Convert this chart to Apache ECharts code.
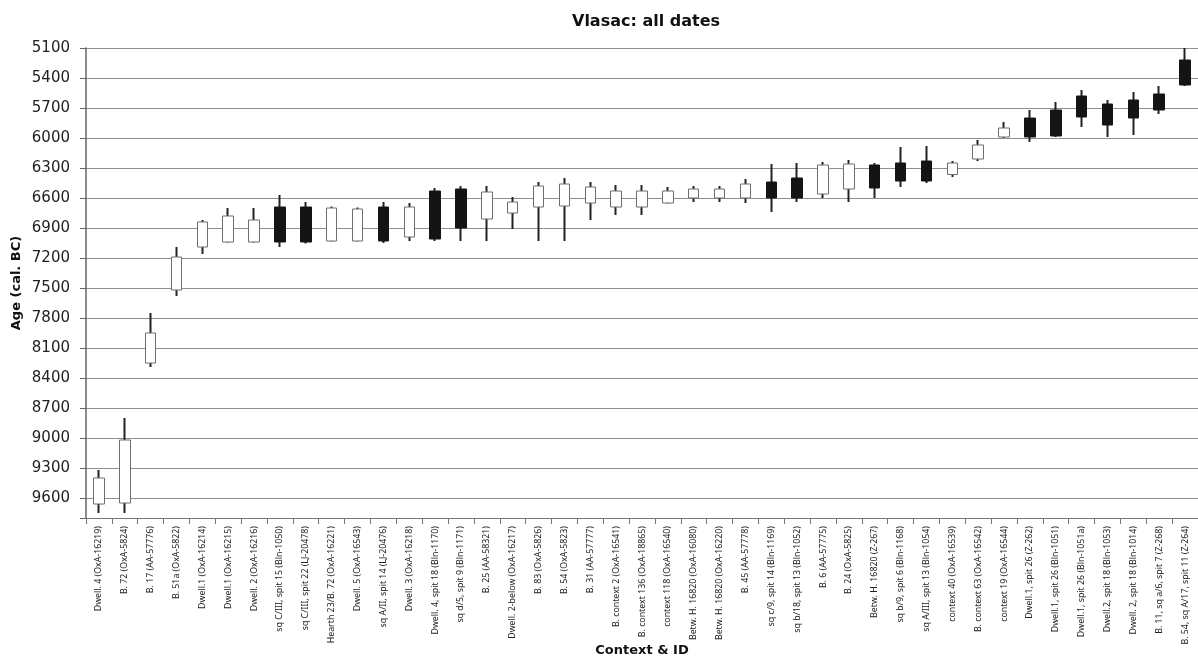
<!DOCTYPE html>
<html>
<head>
<meta charset="utf-8">
<script src="https://cdn.jsdelivr.net/npm/echarts@6/dist/echarts.min.js"></script>
<style>html,body{margin:0;padding:0;background:#fff}#c{width:1198px;height:662px}</style>
</head>
<body>
<div id="c"></div>
<script>
const categories = [
  'Dwell. 4 (OxA-16219)','B. 72 (OxA-5824)','B. 17 (AA-57776)','B. 51a (OxA-5822)',
  'Dwell.1 (OxA-16214)','Dwell.1 (OxA-16215)','Dwell. 2 (OxA-16216)','sq C/III, spit 15 (Bln-1050)',
  'sq C/III, spit 22 (LJ-20478)','Hearth 23/B. 72 (OxA-16221)','Dwell. 5 (OxA-16543)','sq A/II, spit 14 (LJ-20476)',
  'Dwell. 3 (OxA-16218)','Dwell. 4, spit 18 (Bln-1170)','sq d/5, spit 9 (Bln-1171)','B. 25 (AA-58321)',
  'Dwell. 2-below (OxA-16217)','B. 83 (OxA-5826)','B. 54 (OxA-5823)','B. 31 (AA-57777)',
  'B. context 2 (OxA-16541)','B. context 136 (OxA-18865)','context 118 (OxA-16540)','Betw. H. 16820 (OxA-16080)',
  'Betw. H. 16820 (OxA-16220)','B. 45 (AA-57778)','sq c/9, spit 14 (Bln-1169)','sq b/18, spit 13 (Bln-1052)',
  'B. 6 (AA-57775)','B. 24 (OxA-5825)','Betw. H. 16820 (Z-267)','sq b/9, spit 6 (Bln-1168)',
  'sq A/III, spit 13 (Bln-1054)','context 40 (OxA-16539)','B. context 63 (OxA-16542)','context 19 (OxA-16544)',
  'Dwell.1, spit 26 (Z-262)','Dwell.1, spit 26 (Bln-1051)','Dwell.1, spit 26 (Bln-1051a)','Dwell.2, spit 18 (Bln-1053)',
  'Dwell. 2, spit 18 (Bln-1014)','B. 11, sq a/6, spit 7 (Z-268)','B. 54, sq A/17, spit 11 (Z-264)'
];
// ages in cal. BC: whisker young end, box young end, box old end, whisker old end
const whiskerYoung = [9320,8800,7750,7090,6820,6700,6700,6570,6640,6685,6695,6640,6650,6500,6480,6480,6590,6440,6400,6440,6470,6470,6490,6480,6480,6410,6260,6250,6240,6220,6250,6090,6080,6230,6020,5840,5720,5640,5520,5620,5540,5480,5100];
const boxYoung     = [9400,9020,7950,7190,6840,6780,6820,6690,6690,6700,6710,6690,6690,6530,6510,6540,6640,6480,6460,6490,6530,6530,6530,6510,6510,6460,6440,6400,6270,6260,6270,6250,6230,6250,6070,5900,5800,5720,5580,5660,5620,5560,5220];
const boxOld       = [9660,9650,8250,7520,7090,7040,7040,7040,7040,7030,7030,7030,6990,7010,6900,6810,6750,6690,6680,6650,6690,6690,6650,6600,6600,6600,6600,6600,6560,6510,6500,6430,6430,6365,6210,5990,5990,5980,5790,5870,5800,5720,5470];
const whiskerOld   = [9750,9750,8290,7580,7160,7045,7045,7090,7055,7035,7035,7050,7030,7030,7030,7030,6910,7030,7030,6820,6770,6770,6655,6640,6640,6650,6740,6640,6600,6640,6600,6490,6450,6390,6230,6000,6040,5990,5890,5990,5970,5760,5480];
const filled       = [0,0,0,0,0,0,0,1,1,0,0,1,0,1,1,0,0,0,0,0,0,0,0,0,0,0,1,1,0,0,1,1,1,0,0,0,1,1,1,1,1,1,1];
const yTicks = {min: 5100, max: 9800, interval: 300};

const whiskerData = categories.map((c, i) => {
  const mid = (boxYoung[i] + boxOld[i]) / 2;
  return [mid, mid, whiskerYoung[i], whiskerOld[i]];
});
const boxData = categories.map((c, i) => {
  const fillC = filled[i] ? '#141414' : '#ffffff';
  const bord = filled[i] ? '#141414' : '#6e6e6e';
  return {
    value: [boxYoung[i], boxOld[i], boxYoung[i], boxOld[i]],
    itemStyle: {color: fillC, color0: fillC, borderColor: bord, borderColor0: bord}
  };
});

const chart = echarts.init(document.getElementById('c'), null, {renderer: 'canvas'});
chart.setOption({
  animation: false,
  backgroundColor: '#ffffff',
  title: {
    text: 'Vlasac: all dates',
    left: 567, top: 9,
    textStyle: {fontFamily: 'DejaVu Sans', fontWeight: 'bold', fontSize: 16, color: '#111'}
  },
  grid: {left: 86, right: 0, top: 48, bottom: 144, containLabel: false, outerBoundsMode: 'none'},
  xAxis: {
    type: 'category',
    data: categories,
    name: 'Context & ID',
    nameLocation: 'middle',
    nameGap: 126,
    nameMoveOverlap: false,
    nameTextStyle: {fontFamily: 'DejaVu Sans', fontWeight: 'bold', fontSize: 13, color: '#111'},
    axisLine: {show: true, lineStyle: {color: '#777', width: 1}},
    axisTick: {show: true, alignWithLabel: false, length: 6, lineStyle: {color: '#777'}},
    axisLabel: {interval: 0, rotate: 90, fontFamily: 'Noto Sans', fontSize: 8.8, color: '#222', margin: 8},
    splitLine: {show: false}
  },
  yAxis: {
    type: 'value',
    inverse: true,
    min: yTicks.min, max: yTicks.max, interval: yTicks.interval,
    name: 'Age (cal. BC)',
    nameLocation: 'middle',
    nameGap: 63,
    nameMoveOverlap: false,
    nameTextStyle: {fontFamily: 'DejaVu Sans', fontWeight: 'bold', fontSize: 13, color: '#111'},
    axisLine: {show: true, lineStyle: {color: '#666', width: 1.5}},
    axisTick: {show: true, length: 6, lineStyle: {color: '#666'}},
    axisLabel: {
      fontFamily: 'DejaVu Sans', fontSize: 15, color: '#222', margin: 16,
      formatter: v => (v === yTicks.max ? '' : String(v))
    },
    splitLine: {show: true, lineStyle: {color: '#8f8f8f', width: 1}}
  },
  series: [
    {
      type: 'candlestick',
      data: whiskerData,
      barWidth: 1,
      itemStyle: {color: '#222', color0: '#222', borderColor: '#222', borderColor0: '#222', borderWidth: 2},
      z: 2
    },
    {
      type: 'candlestick',
      data: boxData,
      barWidth: 11,
      itemStyle: {borderWidth: 1},
      z: 3
    }
  ]
});
</script>
</body>
</html>
